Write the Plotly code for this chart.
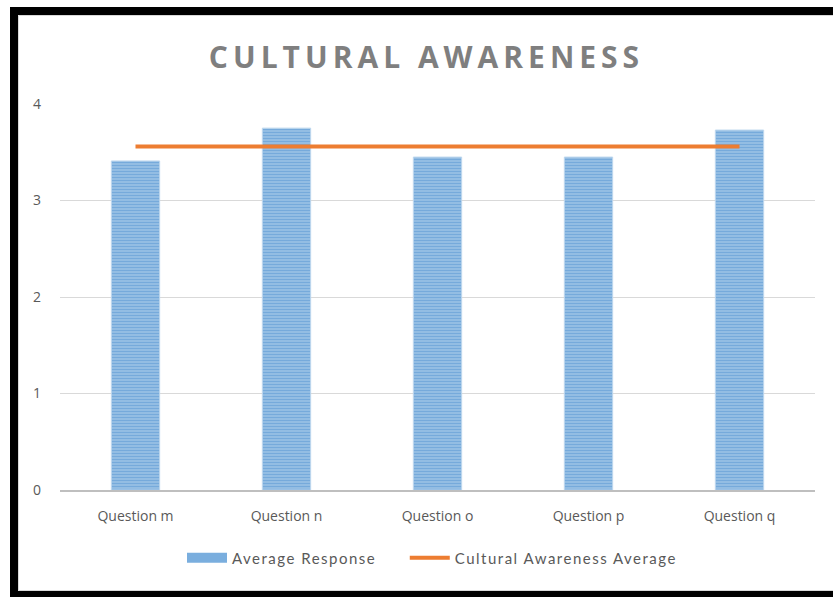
import plotly.graph_objects as go

categories = ["Question m", "Question n", "Question o", "Question p", "Question q"]
avg_response = [3.41, 3.75, 3.45, 3.45, 3.73]
overall_average = [3.56, 3.56, 3.56, 3.56, 3.56]
y_ticks = [0, 1, 2, 3, 4]

W, H = 833, 597
L, R, T, B = 60, 18, 104, 107
PW, PH = W - L - R, H - T - B

def px(x):
    return (x - L) / PW

def py(y):
    return (H - B - y) / PH

def spaced(s, sp, tail=None):
    if tail is None:
        return '<span style="letter-spacing:%spx">%s</span>' % (sp, s)
    return ('<span style="letter-spacing:%spx">%s</span>' % (sp, s[:-1]) +
            '<span style="letter-spacing:%spx">%s</span>' % (tail, s[-1]))

BAR_LIGHT = "#9DC3E6"
BAR_DARK = "#4F92D0"

fig = go.Figure()
fig.add_trace(go.Bar(
    x=categories, y=avg_response, name="Average Response",
    width=0.32, showlegend=False,
    marker=dict(
        color=BAR_LIGHT,
        line=dict(color="#BDD7EE", width=1),
        pattern=dict(shape="-", size=3, solidity=0.5, fgcolor=BAR_DARK, bgcolor=BAR_LIGHT),
    ),
))
# legend entry for the bar series (wide swatch)
fig.add_trace(go.Scatter(
    x=[None], y=[None], name=spaced("Average Response", 1.5, tail=25),
    mode="lines", line=dict(color="#7AAEDE", width=11),
    hoverinfo="skip",
))
fig.add_trace(go.Scatter(
    x=categories, y=overall_average, name=spaced("Cultural Awareness Average", 1.5),
    mode="lines", line=dict(color="#ED7D31", width=4),
))

shapes = [
    dict(type="rect", xref="paper", yref="paper", x0=px(10), x1=px(845), y0=py(7), y1=py(15),
         fillcolor="black", line=dict(width=0)),
    dict(type="rect", xref="paper", yref="paper", x0=px(10), x1=px(18), y0=py(7), y1=py(600),
         fillcolor="black", line=dict(width=0)),
    dict(type="rect", xref="paper", yref="paper", x0=px(10), x1=px(845), y0=py(591), y1=py(600),
         fillcolor="black", line=dict(width=0)),
    dict(type="rect", xref="paper", yref="paper", x0=px(18.5), x1=px(840), y0=py(15.5), y1=py(590.5),
         fillcolor="rgba(0,0,0,0)", line=dict(color="#D9D9D9", width=1)),
]

fig.update_layout(
    width=W, height=H,
    margin=dict(l=L, r=R, t=T, b=B),
    paper_bgcolor="white", plot_bgcolor="white",
    title=dict(
        text=spaced("CULTURAL AWARENESS", 5),
        x=426.5 / W, xref="container", xanchor="center",
        y=1 - 57 / H, yref="container", yanchor="middle",
        font=dict(family="Open Sans", size=30, color="#7F7F7F", weight="bold"),
    ),
    font=dict(family="Open Sans", size=13, color="#595959"),
    showlegend=True,
    legend=dict(
        orientation="h", x=432 / W, xref="container", xanchor="center",
        y=1 - 558 / H, yref="container", yanchor="middle",
        itemwidth=40,
        font=dict(family="Lato", size=15, color="#595959"),
        traceorder="normal",
    ),
    xaxis=dict(
        showline=True, linecolor="#BFBFBF", linewidth=2, ticks="",
        showgrid=False, ticklabelstandoff=12,
        tickfont=dict(family="Open Sans", size=14, color="#595959"),
    ),
    yaxis=dict(
        range=[0, 4], tickvals=y_ticks, showline=False, zeroline=False,
        gridcolor="#D9D9D9", gridwidth=1, ticks="", ticklabelstandoff=18,
        tickfont=dict(family="Open Sans", size=14, color="#595959"),
    ),
    shapes=shapes,
)

fig.write_html("out.html")
